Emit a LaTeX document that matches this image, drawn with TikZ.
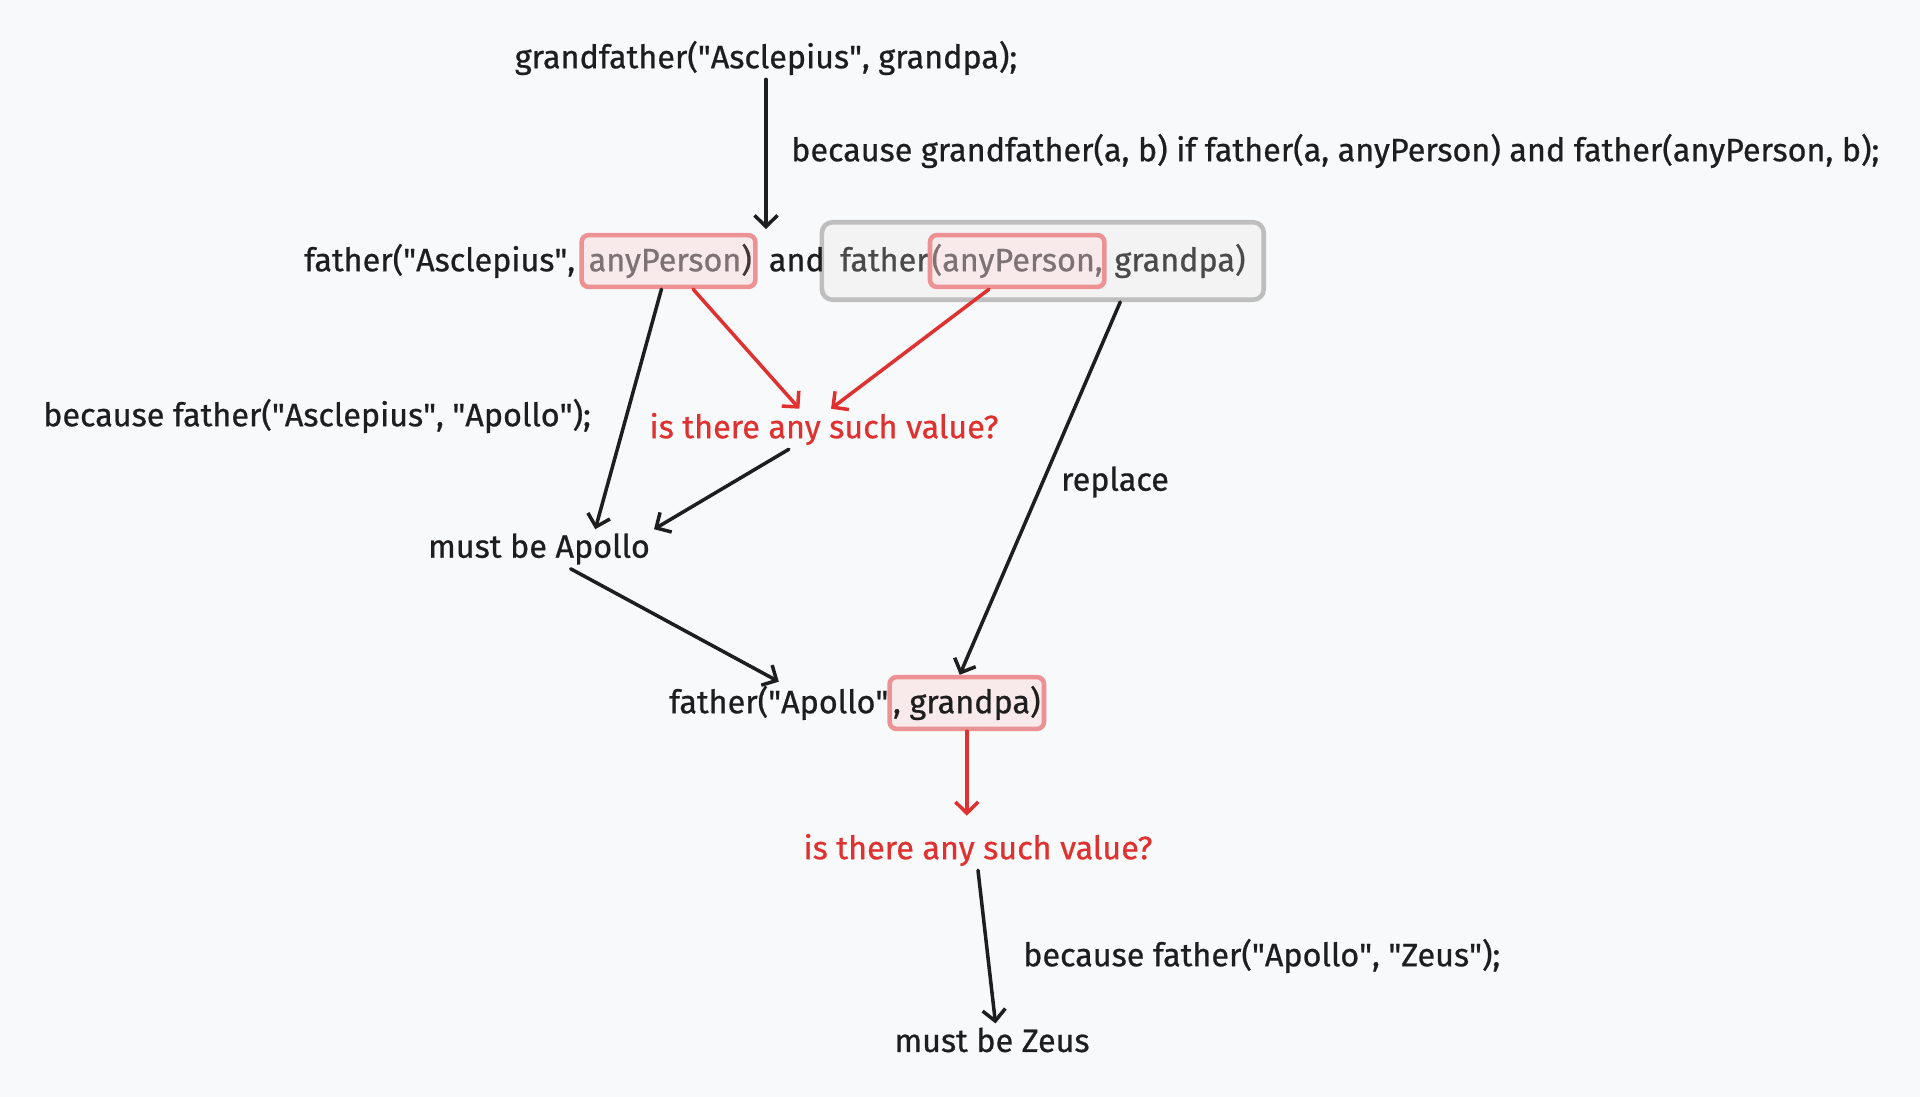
\documentclass[tikz,border=0pt]{standalone}
\usepackage{fontspec}
\setmainfont{Fira Sans}[FakeBold=0.7]
\definecolor{pagebg}{RGB}{248, 249, 250}
\definecolor{ink}{RGB}{30, 30, 30}
\definecolor{alertred}{RGB}{224, 49, 49}
\definecolor{boxred}{RGB}{236, 146, 148}
\definecolor{boxpink}{RGB}{248, 233, 235}
\definecolor{boxgray}{RGB}{190, 190, 190}
\definecolor{boxfill}{RGB}{243, 243, 243}
\definecolor{dimtext}{RGB}{125, 114, 116}
\definecolor{midtext}{RGB}{74, 74, 74}
\usetikzlibrary{arrows.meta, positioning, fit, backgrounds}
\newcommand{\qt}{\textquotedbl}

\begin{document}
\begin{tikzpicture}[x=0.01cm, y=-0.01cm,
    txt/.style={inner sep=1pt, text=ink, font=\fontsize{9.2}{11}\selectfont},
    query/.style={txt, text=alertred},
    hilite/.style={txt, draw=boxred, fill=boxpink, line width=1.3pt, rounded corners=2pt, inner xsep=1pt, inner ysep=2.5pt},
    grouped/.style={draw=boxgray, fill=boxfill, line width=1.3pt, rounded corners=3pt, inner xsep=3pt, inner ysep=3pt},
    link/.style={-{Straight Barb[length=3.2pt, width=6.5pt]}, line width=1pt, draw=ink, line cap=round},
    redlink/.style={link, draw=alertred}]
  \begin{scope}[on background layer]
    \fill[pagebg] (0,0) rectangle (1920,1097);
  \end{scope}
  \useasboundingbox (0,0) rectangle (1920,1097);

  % Goal
  \node[txt] (goal) at (766, 58) {grandfather(\qt Asclepius\qt, grandpa);};
  \node[txt, anchor=west] (rule) at (787, 151) {because grandfather(a, b) if father(a, anyPerson) and father(anyPerson, b);};

  % Conjunction
  \node[txt, anchor=west] (fa) at (300, 261) {father(\qt Asclepius\qt,};
  \node[hilite, base right=0pt of fa] (any1) {\hspace{1pt}\textcolor{dimtext}{anyPerson}\textcolor{ink!80!boxred})};
  \node[txt, base right=2pt of any1] (and) {and};
  \node[txt, text=midtext, base right=2pt of and] (fb) {father};
  \node[hilite, base right=-1.5pt of fb, inner xsep=0.5pt] (any2) {\textcolor{dimtext}{(anyPerson,}};
  \node[txt, text=midtext, base right=1pt of any2] (gp) {grandpa)};
  \begin{scope}[on background layer]
    \node[grouped, fit=(fb)(any2)(gp), inner xsep=4pt] (second) {};
  \end{scope}
  \draw[link] (goal) -- ([yshift=3pt]fa.north -| goal);

  % First branch
  \node[txt, anchor=west] (why1) at (39, 416) {because father(\qt Asclepius\qt, \qt Apollo\qt);};
  \node[query] (ask1) at (824, 429) {is there any such value?};
  \node[txt] (apollo) at (539, 549) {must be Apollo};
  \node[txt] (repl) at (1115, 482) {replace};

  \draw[link] ([xshift=-2pt]any1.south) -- ([xshift=16pt]apollo.north);
  \draw[redlink] ([xshift=7pt]any1.south) -- ([xshift=-7pt]ask1.north);
  \draw[redlink] ([xshift=-8pt]any2.south) -- ([xshift=2pt]ask1.north);
  \draw[link] ([xshift=-10pt]ask1.south) -- (apollo.north east);

  % Second goal
  \node[txt, anchor=west] (fc) at (665, 703) {father(\qt Apollo\qt};
  \node[hilite, base right=-1.5pt of fc] (gp2) {, grandpa)\hspace{4pt}};
  \draw[link] ([xshift=9pt]apollo.south) -- (fc.north);
  \draw[link] ([xshift=22pt]second.south) -- ([xshift=-2pt]gp2.north);

  % Second branch
  \node[query] (ask2) at (978, 850) {is there any such value?};
  \node[txt, anchor=west] (why2) at (1019, 956) {because father(\qt Apollo\qt, \qt Zeus\qt);};
  \node[txt] (zeus) at (992, 1040) {must be Zeus};
  \draw[redlink] (gp2.south) -- ([yshift=4pt]gp2.south |- ask2.north);
  \draw[link] (ask2.south) -- ([xshift=1pt]zeus.north);
\end{tikzpicture}
\end{document}
